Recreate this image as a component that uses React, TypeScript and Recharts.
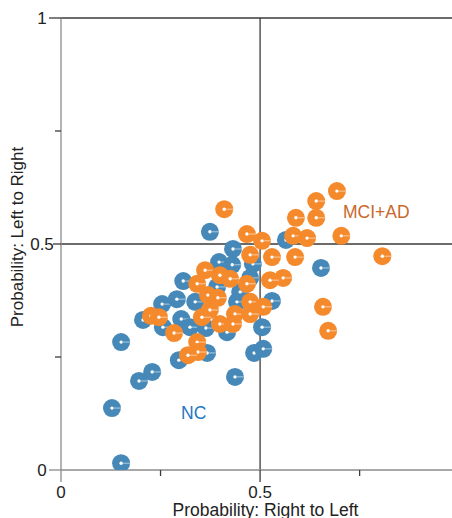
import { ScatterChart, Scatter, XAxis, YAxis, ReferenceLine } from "recharts"

// NC (blue) points
const ncX = [0.151, 0.128, 0.151, 0.196, 0.229, 0.206, 0.254, 0.291, 0.307, 0.256, 0.302, 0.324, 0.364, 0.417, 0.296, 0.367, 0.437, 0.485, 0.508, 0.505, 0.53, 0.442, 0.337, 0.374, 0.432, 0.397, 0.43, 0.482, 0.475, 0.392, 0.45, 0.565, 0.653]
const ncY = [0.015, 0.137, 0.283, 0.197, 0.217, 0.332, 0.367, 0.378, 0.418, 0.316, 0.334, 0.316, 0.314, 0.305, 0.243, 0.259, 0.206, 0.259, 0.268, 0.316, 0.374, 0.372, 0.372, 0.527, 0.489, 0.46, 0.454, 0.456, 0.425, 0.405, 0.394, 0.509, 0.447]

// MCI+AD (orange) points
const adX = [0.41, 0.693, 0.641, 0.59, 0.641, 0.583, 0.618, 0.704, 0.807, 0.588, 0.558, 0.525, 0.467, 0.505, 0.475, 0.53, 0.362, 0.399, 0.425, 0.342, 0.467, 0.369, 0.394, 0.475, 0.508, 0.374, 0.354, 0.437, 0.475, 0.399, 0.432, 0.226, 0.246, 0.284, 0.342, 0.344, 0.319, 0.658, 0.671]
const adY = [0.577, 0.617, 0.595, 0.558, 0.558, 0.518, 0.513, 0.518, 0.473, 0.471, 0.425, 0.42, 0.522, 0.507, 0.476, 0.471, 0.442, 0.431, 0.423, 0.412, 0.412, 0.387, 0.381, 0.372, 0.361, 0.354, 0.338, 0.345, 0.345, 0.323, 0.323, 0.341, 0.338, 0.303, 0.283, 0.261, 0.254, 0.361, 0.308]

const xTicks = [0, 0.25, 0.5, 0.75]
const yTicks = [0, 0.25, 0.5, 0.75, 1]
const majorTicks = [0, 0.5, 1]

const ncData = ncX.map((x, i) => ({ x, y: ncY[i] }))
const adData = adX.map((x, i) => ({ x, y: adY[i] }))

const BLUE = "#4689b8"
const ORANGE = "#f58a2d"
const DARK = "#3a3a3a"
const GRAY = "#8c8c8c"
const FONT = "'Liberation Sans', Arial, sans-serif"

function fmt(v: number) {
  return v === 0.5 ? "0.5" : String(v)
}

function XTick(props: any) {
  const { x, y, payload } = props
  const major = majorTicks.includes(payload.value)
  return (
    <g>
      <line x1={x} x2={x} y1={y} y2={y + (major ? 12 : 6)} stroke={payload.value === 0 ? GRAY : DARK} strokeWidth={1.3} />
      {major && (
        <text x={x} y={y + 28} textAnchor="middle" fontSize={17} fill="#222" fontFamily={FONT}>
          {fmt(payload.value)}
        </text>
      )}
    </g>
  )
}

function YTick(props: any) {
  const { x, y, payload } = props
  const major = majorTicks.includes(payload.value)
  const len = payload.value === 0.5 ? 8 : major ? 12 : 6
  return (
    <g>
      <line x1={x - len} x2={x} y1={y} y2={y} stroke={payload.value === 0 ? GRAY : DARK} strokeWidth={1.3} />
      {major && (
        <text x={x - 19} y={y} dy="0.36em" textAnchor="middle" fontSize={17} fill="#222" fontFamily={FONT}>
          {fmt(payload.value)}
        </text>
      )}
    </g>
  )
}

function Dot(color: string) {
  return (props: any) => {
    const { cx, cy } = props
    return (
      <g>
        <circle cx={cx} cy={cy} r={9} fill={color} />
        <line x1={cx + 2} x2={cx + 9} y1={cy} y2={cy} stroke="#fff" strokeOpacity={0.55} strokeWidth={1} />
        <circle cx={cx} cy={cy} r={1.7} fill="#fff" />
      </g>
    )
  }
}

function YTitle(props: any) {
  const { viewBox } = props
  const x = viewBox.x + 23
  const y = viewBox.y + viewBox.height / 2 - 7
  return (
    <text x={x} y={y} transform={`rotate(-90, ${x}, ${y})`} textAnchor="middle" fontSize={17} fill="#222" fontFamily={FONT}>
      Probability: Left to Right
    </text>
  )
}

function XTitle(props: any) {
  const { viewBox } = props
  const x = viewBox.x + viewBox.width / 2 + 9
  const y = viewBox.y + viewBox.height - 2
  return (
    <text x={x} y={y} textAnchor="middle" fontSize={17.5} fill="#222" fontFamily={FONT}>
      Probability: Right to Left
    </text>
  )
}

export default function App() {
  return (
    <div style={{ position: "absolute", left: 0, top: 0, width: 452, height: 518, background: "#fff" }}>
      <ScatterChart width={452} height={518} margin={{ top: 18, right: 0, bottom: 0, left: 0 }}>
        <XAxis
          type="number"
          dataKey="x"
          domain={[0, 0.982]}
          ticks={xTicks}
          interval={0}
          allowDataOverflow
          height={48}
          tickSize={0}
          tickMargin={0}
          tickLine={false}
          axisLine={{ stroke: GRAY, strokeWidth: 1.3 }}
          tick={<XTick />}
          label={{ content: <XTitle /> }}
        />
        <YAxis
          type="number"
          dataKey="y"
          domain={[0, 1]}
          ticks={yTicks}
          interval={0}
          allowDataOverflow
          width={61}
          tickSize={0}
          tickMargin={0}
          tickLine={false}
          axisLine={{ stroke: GRAY, strokeWidth: 1.3 }}
          tick={<YTick />}
          label={{ content: <YTitle /> }}
        />
        <ReferenceLine y={1} stroke={DARK} strokeWidth={1.3} />
        <ReferenceLine y={0.5} stroke={DARK} strokeWidth={1.5} />
        <ReferenceLine x={0.5} stroke={DARK} strokeWidth={1.3} />
        <Scatter data={ncData} fill={BLUE} shape={Dot(BLUE)} isAnimationActive={false} />
        <Scatter data={adData} fill={ORANGE} shape={Dot(ORANGE)} isAnimationActive={false} />
        <text x={181} y={419} fontSize={17.5} fill="#1f78c0" fontFamily={FONT}>NC</text>
        <text x={343} y={218} fontSize={17.5} fill="#c9682c" fontFamily={FONT}>MCI+AD</text>
      </ScatterChart>
    </div>
  )
}
